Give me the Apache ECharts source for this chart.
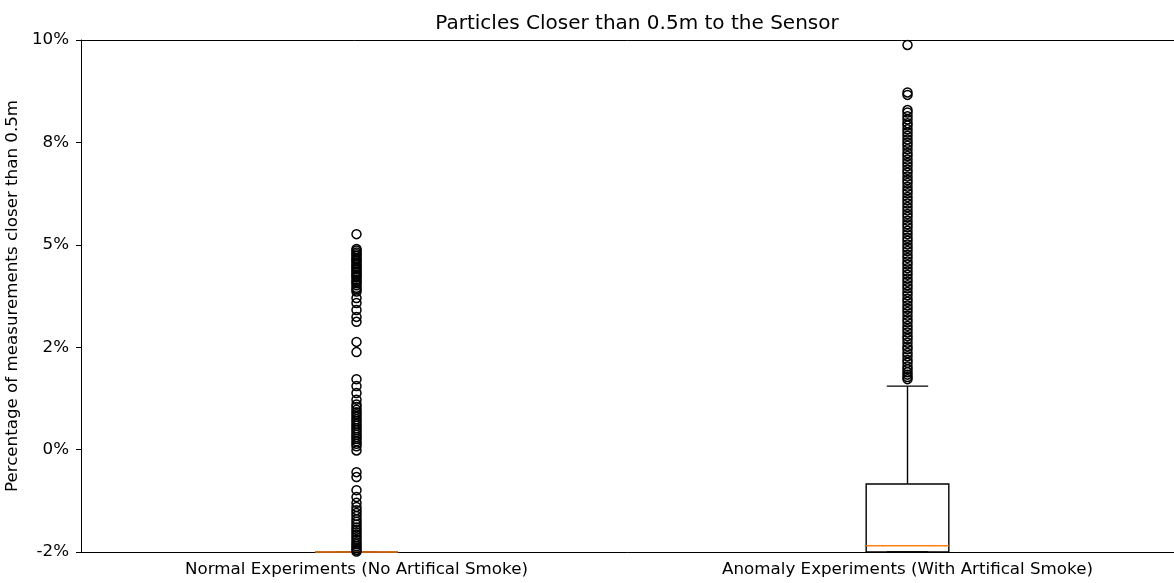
<!DOCTYPE html>
<html>
<head>
<meta charset="utf-8">
<script src="https://cdn.jsdelivr.net/npm/echarts@6/dist/echarts.min.js"></script>
<style>
html,body{margin:0;padding:0;background:#fff;}
#chart{width:1174px;height:583px;}
</style>
</head>
<body>
<div id="chart"></div>
<script>
const categories = ['Normal Experiments (No Artifical Smoke)', 'Anomaly Experiments (With Artifical Smoke)'];
const yTickLabels = ['-2%', '0%', '2%', '5%', '8%', '10%'];
// [lowWhisker, q1, median, q3, highWhisker]
const normalBox = [-2.5, -2.5, -2.5, -2.5, -2.5];
const anomalyBox = [-2.5, -2.5, -2.35, -0.84, 1.55];
const normalOutliers = [
  5.26,
  4.90, 4.86, 4.81, 4.77, 4.73, 4.68, 4.64, 4.61, 4.56, 4.52, 4.47, 4.44, 4.40, 4.35, 4.32, 4.27, 4.23, 4.20, 4.14, 4.10, 4.06, 4.01, 3.95, 3.91, 3.86,
  3.70, 3.58, 3.41, 3.24, 3.12,
  2.63, 2.38,
  1.72, 1.55, 1.38,
  1.22, 1.10, 1.04, 0.97, 0.91, 0.86, 0.80, 0.74, 0.69, 0.63, 0.58, 0.52, 0.47, 0.42, 0.36, 0.31, 0.26, 0.20, 0.14, 0.08, -0.02,
  -0.55, -0.67,
  -0.99, -1.16, -1.30, -1.40, -1.48, -1.55, -1.62, -1.70, -1.76, -1.83, -1.90, -1.96, -2.02, -2.08, -2.14, -2.20, -2.26, -2.31, -2.36, -2.41, -2.45, -2.49
];
const anomalyOutliers = [
  9.88,
  8.72, 8.66,
  8.29, 8.23, 8.14, 8.06, 7.97, 7.91, 7.82, 7.74, 7.66, 7.57, 7.49, 7.42, 7.33, 7.24, 7.17, 7.08, 7.00, 6.92, 6.83, 6.76, 6.67, 6.58, 6.51, 6.42, 6.33, 6.26, 6.17, 6.09, 6.01, 5.92, 5.84, 5.75, 5.68, 5.59, 5.50, 5.43, 5.34, 5.26, 5.17, 5.10, 5.01, 4.93, 4.85, 4.76, 4.68, 4.59, 4.52, 4.43, 4.35, 4.27, 4.18, 4.10, 4.01, 3.94, 3.85, 3.77, 3.68, 3.61, 3.52, 3.44, 3.36, 3.27, 3.18, 3.11, 3.02, 2.94, 2.86, 2.77, 2.70, 2.61, 2.52, 2.45, 2.36, 2.28, 2.19, 2.12, 2.03, 1.96, 1.89, 1.83, 1.77, 1.72
];

const boxData = [
  [0].concat(normalBox),
  [1].concat(anomalyBox)
];
const outlierData = normalOutliers.map(v => [0, v]).concat(anomalyOutliers.map(v => [1, v]));

const chart = echarts.init(document.getElementById('chart'), null, {renderer: 'canvas'});
const font = 'DejaVu Sans';
chart.setOption({
  animation: false,
  backgroundColor: '#fff',
  title: {
    text: 'Particles Closer than 0.5m to the Sensor',
    left: 632,
    textAlign: 'center',
    top: 9,
    textStyle: {fontFamily: font, fontSize: 20, fontWeight: 'normal', color: '#000'}
  },
  grid: {
    left: 81, top: 40, width: 1102, height: 512,
    outerBoundsMode: 'none',
    containLabel: false,
    show: false
  },
  xAxis: [
    {
      type: 'category',
      data: categories,
      boundaryGap: true,
      axisLine: {onZero: false, lineStyle: {color: '#000', width: 1}},
      axisTick: {alignWithLabel: true, length: 5, lineStyle: {color: '#000'}},
      axisLabel: {color: '#000', fontFamily: font, fontSize: 16.7, margin: 9, interval: 0, hideOverlap: false},
      splitLine: {show: false}
    },
    {
      type: 'category',
      position: 'top',
      data: categories,
      axisLine: {show: true, onZero: false, lineStyle: {color: '#000', width: 1}},
      axisTick: {show: false},
      axisLabel: {show: false},
      splitLine: {show: false}
    }
  ],
  yAxis: {
    type: 'value',
    min: -2.5, max: 10, interval: 2.5,
    name: 'Percentage of measurements closer than 0.5m',
    nameLocation: 'middle',
    nameRotate: 90,
    nameGap: 54,
    nameTextStyle: {color: '#000', fontFamily: font, fontSize: 16.7},
    axisLine: {show: true, lineStyle: {color: '#000', width: 1}},
    axisTick: {show: true, length: 5, lineStyle: {color: '#000'}},
    axisLabel: {
      color: '#000', fontFamily: font, fontSize: 16.7, margin: 12,
      formatter: (v) => yTickLabels[Math.round((v + 2.5) / 2.5)]
    },
    splitLine: {show: false}
  },
  series: [
    {
      type: 'custom',
      data: boxData,
      encode: {x: 0, y: [1, 2, 3, 4, 5]},
      z: 2,
      renderItem: function (params, api) {
        const cat = api.value(0);
        const low = api.coord([cat, api.value(1)]);
        const q1 = api.coord([cat, api.value(2)]);
        const med = api.coord([cat, api.value(3)]);
        const q3 = api.coord([cat, api.value(4)]);
        const high = api.coord([cat, api.value(5)]);
        const band = api.size([1, 0])[0];
        const bw = band * 0.15;
        const cx = q1[0];
        const black = {stroke: '#000', lineWidth: 1.4, fill: null};
        return {
          type: 'group',
          children: [
            {type: 'line', shape: {x1: cx, y1: q3[1], x2: cx, y2: high[1]}, style: black},
            {type: 'line', shape: {x1: cx, y1: q1[1], x2: cx, y2: low[1]}, style: black},
            {type: 'line', shape: {x1: cx - bw / 4, y1: high[1], x2: cx + bw / 4, y2: high[1]}, style: black},
            {type: 'line', shape: {x1: cx - bw / 4, y1: low[1], x2: cx + bw / 4, y2: low[1]}, style: black},
            {type: 'rect', shape: {x: cx - bw / 2, y: q3[1], width: bw, height: q1[1] - q3[1]}, style: {stroke: '#000', lineWidth: 1.4, fill: 'none'}},
            {type: 'line', shape: {x1: cx - bw / 2, y1: med[1], x2: cx + bw / 2, y2: med[1]}, style: {stroke: '#ff7f0e', lineWidth: 1.5}}
          ]
        };
      }
    },
    {
      type: 'scatter',
      data: outlierData,
      symbol: 'circle',
      symbolSize: 9,
      z: 3,
      itemStyle: {color: 'rgba(0,0,0,0)', borderColor: '#000', borderWidth: 1.5, opacity: 1}
    }
  ]
});
</script>
</body>
</html>
